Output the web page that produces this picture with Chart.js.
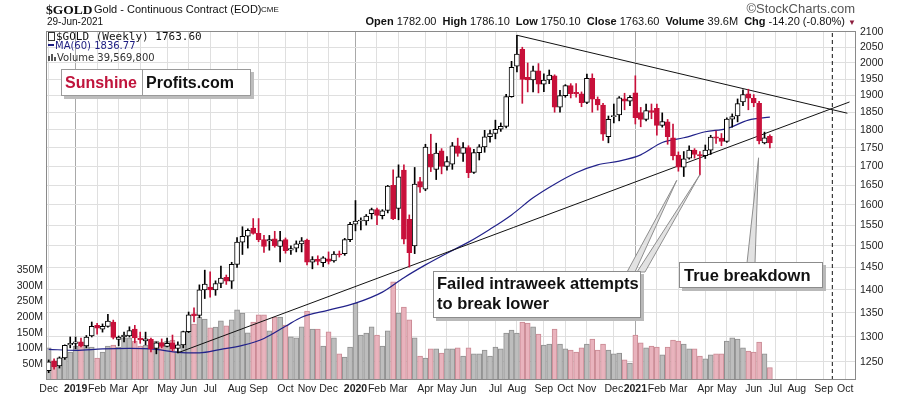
<!DOCTYPE html>
<html>
<head>
<meta charset="utf-8">
<script src="https://cdn.jsdelivr.net/npm/chart.js@4.4.0/dist/chart.umd.min.js"></script>
<style>
  body { margin: 0; background: #fff; }
  #wrap { position: relative; width: 900px; height: 396px; overflow: hidden; font-family: Arial, "Liberation Sans", sans-serif; color: #111; }
  #wrap canvas { position: absolute; left: 0; top: 0; }
  .t { position: absolute; white-space: nowrap; line-height: 1; }
  .note { position: absolute; box-sizing: border-box; background: #fff; border: 1px solid #8c8c8c; box-shadow: 3px 3px 0 #b9b9b9; font: bold 16.5px Arial, "Liberation Sans", sans-serif; color: #111; white-space: nowrap; }
  #quote b { margin-left: 3px; }
  #quote b:first-child { margin-left: 0; }
  .logo { position: absolute; left: 61px; top: 69px; width: 190px; height: 27px; box-sizing: border-box; border: 1px solid #9a9a9a; box-shadow: 3px 3px 0 #bdbdbd; background: #fff; display: flex; font: bold 16px Arial, "Liberation Sans", sans-serif; line-height: 25px; }
  .logo span { padding-left: 3px; }
</style>
</head>
<body>
<div id="wrap">
  <canvas id="chart" width="900" height="396"></canvas>

  <div class="t" style="left:46px;top:2px;font:bold 13.5px 'Liberation Serif', serif;">$GOLD</div>
  <div class="t" style="left:94px;top:4px;font-size:11px;">Gold - Continuous Contract (EOD)</div>
  <div class="t" style="left:261px;top:6px;font-size:8px;">CME</div>
  <div class="t" style="left:47px;top:17px;font-size:10px;">29-Jun-2021</div>
  <div class="t" style="right:45px;top:2px;font-size:13px;color:#555;">&copy;StockCharts.com</div>
  <div class="t" id="quote" style="right:44px;top:16px;font-size:11px;">
    <b>Open</b> 1782.00 <b>High</b> 1786.10 <b>Low</b> 1750.10 <b>Close</b> 1763.60 <b>Volume</b> 39.6M <b>Chg</b> -14.20 (-0.80%) <span style="color:#8c1c3c;font-size:8px;">&#9660;</span>
  </div>

  <div class="t" style="left:48px;top:30px;font:11px 'DejaVu Sans Mono', monospace;">
    <span style="display:inline-block;width:5px;height:7px;border:1px solid #333;margin-right:1px;vertical-align:-1px;"></span>$GOLD (Weekly) 1763.60</div>
  <div class="t" style="left:48px;top:40px;font:10px 'DejaVu Sans', sans-serif;color:#1c1c80;">
    <span style="display:inline-block;width:6px;height:2px;background:#1c1c80;vertical-align:3px;margin-right:1px;"></span>MA(60) 1836.77</div>
  <div class="t" style="left:48px;top:52px;font:10px 'DejaVu Sans', sans-serif;color:#333;">
    <span style="display:inline-block;width:2px;height:5px;background:#555;margin-right:1px;"></span><span style="display:inline-block;width:2px;height:7px;background:#555;margin-right:1px;"></span><span style="display:inline-block;width:2px;height:4px;background:#555;margin-right:1px;"></span>Volume 39,569,800</div>

  <div class="logo">
    <span style="width:81px;box-sizing:border-box;border-right:1px solid #9a9a9a;color:#c0143c;">Sunshine</span>
    <span>Profits.com</span>
  </div>

  <div class="note" style="left:433px;top:271px;width:208px;height:47px;padding:1px 0 0 3px;line-height:20px;">Failed intraweek attempts<br>to break lower</div>
  <div class="note" style="left:679px;top:262px;width:144px;height:26px;padding-left:4px;line-height:24px;">True breakdown</div>
</div>

<script>
// weekly bars, week 0 = 3 Dec 2018
const opens = [1233,1252,1242,1258,1284,1287,1290,1282,1302,1324,1316,1322,1331,1295,1300,1302,1316,1298,1292,1295,
  1277,1288,1281,1288,1277,1284,1311,1348,1345,1400,1406,1400,1414,1428,1419,1457,1509,1523,1543,1530,
  1515,1512,1517,1499,1515,1490,1495,1505,1514,1462,1469,1461,1470,1465,1481,1482,1515,1552,1560,1560,
  1578,1588,1573,1586,1650,1591,1690,1564,1500,1660,1640,1733,1692,1742,1700,1706,1756,1735,1751,1684,
  1737,1753,1781,1790,1802,1810,1897,1990,2043,1955,1947,1975,1934,1947,1960,1866,1900,1930,1910,1905,
  1880,1952,1889,1872,1781,1838,1843,1890,1883,1908,1850,1830,1856,1862,1813,1823,1778,1730,1698,1722,
  1744,1732,1729,1744,1781,1777,1768,1831,1840,1881,1905,1892,1877,1764,1782];
const highs = [1254,1256,1260,1284,1300,1300,1298,1303,1331,1328,1327,1347,1335,1302,1310,1321,1324,1310,1310,1298,
  1290,1296,1298,1304,1290,1312,1352,1361,1411,1444,1440,1420,1453,1433,1462,1520,1546,1541,1566,1566,
  1525,1525,1535,1535,1519,1500,1512,1520,1516,1475,1477,1475,1486,1487,1488,1518,1557,1611,1568,1576,
  1592,1592,1588,1650,1691,1704,1704,1575,1697,1671,1760,1788,1763,1748,1726,1765,1777,1765,1756,1746,
  1759,1799,1800,1828,1820,1904,2005,2089,2050,2000,1990,1998,1966,1978,1963,1916,1933,1936,1936,1911,
  1965,1966,1896,1877,1840,1875,1897,1907,1900,1960,1865,1875,1875,1875,1849,1830,1817,1739,1740,1756,
  1748,1740,1758,1785,1797,1790,1835,1846,1890,1917,1919,1903,1883,1794,1786.1];
const lows = [1229,1236,1238,1255,1278,1276,1280,1278,1300,1306,1310,1320,1296,1282,1290,1300,1288,1287,1284,1270,
  1266,1278,1280,1272,1268,1278,1309,1331,1340,1381,1384,1388,1405,1412,1403,1450,1480,1495,1528,1510,
  1485,1490,1497,1463,1483,1480,1486,1486,1456,1447,1456,1452,1458,1462,1474,1478,1510,1536,1538,1550,
  1565,1551,1565,1580,1563,1563,1505,1451,1482,1632,1636,1686,1665,1680,1690,1692,1727,1713,1670,1681,
  1717,1738,1766,1775,1796,1806,1895,1972,1877,1911,1911,1908,1912,1936,1851,1851,1895,1893,1895,1867,
  1876,1851,1857,1771,1764,1820,1826,1858,1870,1817,1809,1826,1832,1785,1808,1760,1717,1687,1673,1719,
  1722,1677,1721,1732,1762,1756,1765,1808,1823,1870,1858,1867,1761,1761,1750.1];
const closes = [1250,1240,1258,1283,1287,1290,1282,1300,1322,1318,1322,1333,1299,1300,1304,1313,1298,1294,1296,1276,
  1288,1281,1287,1276,1284,1311,1346,1344,1400,1413,1400,1414,1426,1419,1457,1509,1523,1537,1530,1515,
  1499,1515,1500,1513,1489,1494,1505,1512,1462,1468,1464,1472,1464,1481,1479,1515,1552,1560,1560,1572,
  1588,1574,1585,1648,1566,1672,1516,1484,1653,1645,1752,1698,1736,1700,1713,1756,1735,1751,1683,1737,
  1753,1781,1790,1802,1810,1897,1986,2028,1949,1947,1975,1934,1947,1962,1866,1900,1930,1906,1905,1879,
  1952,1889,1872,1788,1830,1840,1893,1883,1895,1835,1830,1856,1850,1813,1824,1781,1728,1698,1720,1744,
  1732,1728,1744,1780,1777,1768,1831,1838,1876,1903,1892,1878,1769,1778,1763.6];
// volume, millions
const volumes = [102,60,70,108,89,108,111,114,105,70,89,108,111,105,134,134,124,108,111,124,
  124,121,124,127,92,114,156,178,200,194,166,168,188,172,191,223,213,150,184,207,
  207,156,200,200,175,137,134,169,219,162,162,108,153,134,83,73,105,245,143,149,
  169,143,108,156,312,213,232,191,134,76,70,99,99,86,99,99,102,76,102,83,
  83,95,76,105,99,149,159,149,184,181,169,146,111,114,162,114,99,95,89,102,
  114,130,95,114,95,83,86,64,54,143,118,102,108,105,80,105,127,124,114,99,
  99,76,67,80,83,83,124,134,130,102,92,89,121,83,39.6];

// 60-week moving average, read at sample weeks
const maWeeks = [0,5,10,15,20,24,28,32,36,40,44,47,52,57,62,66,70,74,78,82,86,90,94,98,102,106,110,114,118,122,126,130,134];
const maValues = [1275,1273,1276,1277,1275,1269,1268,1275,1283,1297,1322,1341,1356,1371,1395,1427,1456,1483,1509,1540,1575,1618,1653,1683,1704,1714,1731,1765,1778,1795,1804,1828,1836.77];

// trend lines (week, price)
const upLineWeeks = [24, 148.8];
const upLinePrices = [1268, 1881];
const downLineWeeks = [87, 148.4];
const downLinePrices = [2089, 1848];
const markerWeek = 145.6;

// callout tips (week, price)
const calloutWeeks = [116.7, 121, 131.9];
const calloutPrices = [1663, 1678, 1723];

// axes
const monthTicks = [0,5,9,13,17,22,26,30,35,39,44,48,52,57,61,65,70,74,78,83,87,92,96,100,105,109,113,117,122,126,131,135,139,144,148];
const monthLabels = ['Dec','2019','Feb','Mar','Apr','May','Jun','Jul','Aug','Sep','Oct','Nov','Dec','2020','Feb','Mar','Apr','May','Jun','Jul','Aug','Sep','Oct','Nov','Dec','2021','Feb','Mar','Apr','May','Jun','Jul','Aug','Sep','Oct'];
const yearTicks = [5, 57, 109];
const priceTicks = [1250,1300,1350,1400,1450,1500,1550,1600,1650,1700,1750,1800,1850,1900,1950,2000,2050,2100];
const volTicks = [50,100,150,200,250,300,350];

const RED = '#c8103a';
const weeks = closes.map((_, i) => i);
const down = weeks.map(i => closes[i] < opens[i]);
const volDown = weeks.map(i => i > 0 && closes[i] < closes[i - 1]);

const overlay = {
  id: 'overlay',
  afterDatasetsDraw(chart) {
    const { ctx, chartArea: a, scales } = chart;
    // callout pointers; their bases sit under the note boxes
    const bases = [[627, 272], [637, 272], [747, 263]];
    ctx.save();
    calloutWeeks.forEach((w, k) => {
      const tx = scales.x.getPixelForValue(w);
      const ty = scales.y.getPixelForValue(calloutPrices[k]);
      const [bx, by] = bases[k];
      ctx.beginPath();
      ctx.moveTo(bx, by);
      ctx.lineTo(tx, ty);
      ctx.lineTo(bx + 8, by);
      ctx.closePath();
      ctx.fillStyle = '#e2e2e2';
      ctx.fill();
      ctx.strokeStyle = '#8e8e8e';
      ctx.lineWidth = 1;
      ctx.stroke();
    });
    ctx.strokeStyle = '#8a8a8a';
    ctx.strokeRect(a.left + 0.5, a.top + 0.5, a.width - 1, a.height - 1);
    ctx.restore();
  }
};

Chart.defaults.font.family = 'Arial, "Liberation Sans", sans-serif';

new Chart(document.getElementById('chart'), {
  type: 'bar',
  data: {
    datasets: [
      {
        label: 'body',
        data: weeks.map(i => ({ x: i, y: [opens[i], closes[i]] })),
        backgroundColor: weeks.map(i => down[i] ? RED : '#fff'),
        borderColor: weeks.map(i => down[i] ? RED : '#000'),
        borderWidth: 1,
        borderSkipped: false,
        barThickness: 5,
        minBarLength: 1,
        grouped: false,
        yAxisID: 'y',
        order: 0
      },
      {
        label: 'wick',
        data: weeks.map(i => ({ x: i, y: [lows[i], highs[i]] })),
        backgroundColor: weeks.map(i => down[i] ? RED : '#000'),
        borderWidth: 0,
        barThickness: 1,
        grouped: false,
        yAxisID: 'y',
        order: 1
      },
      {
        type: 'line',
        label: 'down trend',
        data: downLineWeeks.map((w, k) => ({ x: w, y: downLinePrices[k] })),
        borderColor: '#111',
        borderWidth: 1,
        pointRadius: 0,
        yAxisID: 'y',
        order: 2
      },
      {
        type: 'line',
        label: 'up trend',
        data: upLineWeeks.map((w, k) => ({ x: w, y: upLinePrices[k] })),
        borderColor: '#111',
        borderWidth: 1,
        pointRadius: 0,
        yAxisID: 'y',
        order: 2
      },
      {
        type: 'line',
        label: 'MA(60)',
        data: maWeeks.map((w, k) => ({ x: w, y: maValues[k] })),
        borderColor: '#22228a',
        borderWidth: 1.2,
        pointRadius: 0,
        cubicInterpolationMode: 'monotone',
        yAxisID: 'y',
        order: 3
      },
      {
        type: 'line',
        label: 'marker',
        data: [{ x: markerWeek, y: 1215 }, { x: markerWeek, y: 2103 }],
        borderColor: '#111',
        borderWidth: 1,
        borderDash: [4, 3],
        pointRadius: 0,
        yAxisID: 'y',
        order: 4
      },
      {
        label: 'Volume',
        data: weeks.map(i => ({ x: i, y: volumes[i] })),
        backgroundColor: weeks.map(i => volDown[i] ? '#e9b3bd' : '#bdbdbd'),
        borderColor: weeks.map(i => volDown[i] ? '#c98993' : '#8f8f8f'),
        borderWidth: 1,
        barThickness: 5,
        grouped: false,
        yAxisID: 'yVol',
        order: 9
      }
    ]
  },
  options: {
    responsive: false,
    animation: false,
    devicePixelRatio: 1,
    layout: { padding: { top: 31, left: 0, right: 0, bottom: 0 } },
    plugins: { legend: { display: false }, tooltip: { enabled: false } },
    scales: {
      x: {
        type: 'linear',
        min: -0.5,
        max: 150,
        offset: false,
        grid: {
          offset: false,
          drawTicks: false,
          color: c => (c.tick && yearTicks.includes(c.tick.value)) ? '#a9a9a9' : '#dfdfdf'
        },
        border: { display: false },
        ticks: {
          autoSkip: false,
          maxRotation: 0,
          padding: 3,
          color: '#222',
          font: c => ({ size: 10.5, weight: (c.tick && yearTicks.includes(c.tick.value)) ? 'bold' : 'normal' }),
          callback: v => monthLabels[monthTicks.indexOf(v)]
        },
        afterBuildTicks: s => { s.ticks = monthTicks.map(v => ({ value: v })); },
        afterFit: s => { s.height = 16; }
      },
      y: {
        type: 'logarithmic',
        position: 'right',
        min: 1215,
        max: 2103,
        grid: { color: '#dfdfdf', drawTicks: false },
        border: { display: false },
        ticks: { padding: 4, color: '#222', font: { size: 10.5 }, callback: v => String(v) },
        afterBuildTicks: s => { s.ticks = priceTicks.map(v => ({ value: v })); },
        afterFit: s => { s.width = 44; }
      },
      yVol: {
        type: 'linear',
        position: 'left',
        min: 0,
        max: 1110,
        grid: { display: false, drawTicks: false },
        border: { display: false },
        ticks: { padding: 3, color: '#222', font: { size: 10.5 }, callback: v => v + 'M' },
        afterBuildTicks: s => { s.ticks = volTicks.map(v => ({ value: v })); },
        afterFit: s => { s.width = 46; }
      }
    }
  },
  plugins: [overlay]
});
</script>
</body>
</html>
